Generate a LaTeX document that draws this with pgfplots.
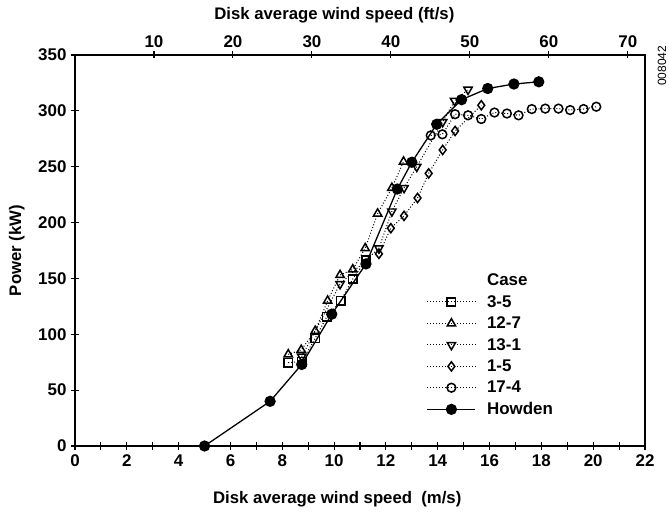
\documentclass[border=0pt]{standalone}
\usepackage{pgfplots}
\pgfplotsset{compat=1.18}
\usepackage{fontspec}
\setmainfont{Liberation Sans}
\begin{document}
\begin{tikzpicture}[x=1bp,y=1bp]
\useasboundingbox (0,0) rectangle (669,514);
\pgfplotsset{
  casemark/.style={black, dotted, line width=1pt, mark options={solid, line width=1.5pt, fill=white}, mark size=4.2pt},
}
\begin{axis}[
  at={(75bp,68bp)}, anchor=south west,
  width=570bp, height=391bp, scale only axis,
  xmin=0, xmax=22, ymin=0, ymax=350,
  axis line style={line width=1.3pt},
  xtick={0,2,...,22}, minor xtick={1,3,...,21},
  ytick={0,50,...,350},
  xtick pos=bottom, ytick pos=left,
  tick align=center,
  major tick length=8bp, minor tick length=8bp,
  every tick/.style={black, line width=1.1pt},
  /pgf/number format/assume math mode=true,
  tick label style={font=\fontsize{17}{19}\selectfont\bfseries},
  label style={font=\fontsize{16.8}{19}\selectfont\bfseries},
  xlabel={Disk average wind speed\ \ (m/s)},
  ylabel={Power (kW)},
  xlabel style={at={(axis description cs:0.46,0)}, anchor=north, yshift=-42bp},
  ylabel style={at={(axis description cs:0,0.5)}, anchor=south, yshift=47bp},
  xticklabel style={yshift=-1bp},
  yticklabel style={xshift=-1bp},
  legend style={draw=none, fill=none, at={(axis cs:13.53,157)}, anchor=north west,
    font=\fontsize{17}{20}\selectfont\bfseries, row sep=4.2bp, inner sep=1bp,
    nodes={inner xsep=11bp}},
  legend cell align=left,
  legend image code/.code={\draw[mark repeat=2,mark phase=2,#1] plot coordinates {(0bp,0bp) (24bp,0bp) (48bp,0bp)};},
  clip=false,
]
\addlegendimage{empty legend}\addlegendentry{Case}
% 3-5
\addplot[casemark, mark=square] coordinates {
(8.23,74.6) (8.75,75.5) (9.27,96.4) (9.72,115.8) (10.26,130) (10.72,149.5) (11.23,166.5)};
\addlegendentry{3-5}
% 12-7
\addplot[casemark, mark=triangle, mark size=4.8pt] coordinates {
(8.23,82) (8.73,86) (9.27,103) (9.75,130) (10.23,153) (10.72,158) (11.2,177) (11.68,208) (12.23,231) (12.68,254.5)};
\addlegendentry{12-7}
% 13-1
\addplot[casemark, mark=triangle, mark size=4.8pt, mark options={solid, line width=1.5pt, fill=white, rotate=180}] coordinates {
(8.75,80) (10.23,145) (11.73,177) (12.23,210) (12.7,231) (13.19,250) (14.19,290) (14.65,309) (15.17,319)};
\addlegendentry{13-1}
% 1-5
\addplot[casemark, mark=diamond, mark size=4.6pt] coordinates {
(11.73,172) (12.19,195) (12.7,206) (13.22,222) (13.65,244) (14.19,265) (14.67,282) (15.68,305)};
\addlegendentry{1-5}
% 17-4
\addplot[casemark, mark=o, mark size=4.4pt] coordinates {
(13.73,278) (14.18,279) (14.67,297) (15.17,296) (15.68,292.7) (16.19,298.5) (16.67,297.6) (17.12,296) (17.63,301.6) (18.15,302) (18.66,302) (19.11,300.7) (19.63,301.6) (20.12,303.7)};
\addlegendentry{17-4}
% Howden
\addplot[black, solid, line width=1.3pt, mark=*, mark size=5pt] coordinates {
(5.0,0) (7.53,40) (8.75,73) (9.91,118) (11.23,163) (12.44,230) (13.0,254) (13.96,288) (14.92,310) (15.93,320) (16.94,324) (17.9,326)};
\addlegendentry{Howden}
\end{axis}
\begin{axis}[
  at={(75bp,68bp)}, anchor=south west,
  width=570bp, height=391bp, scale only axis,
  xmin=0, xmax=72.178, ymin=0, ymax=350,
  axis x line*=top, axis y line=none,
  axis line style={line width=1.3pt},
  xtick={10,20,...,70},
  tick align=center, major tick length=7bp,
  every tick/.style={black, line width=1.1pt},
  /pgf/number format/assume math mode=true,
  tick label style={font=\fontsize{17}{19}\selectfont\bfseries},
  xlabel={Disk average wind speed (ft/s)},
  label style={font=\fontsize{16.8}{19}\selectfont\bfseries},
  xlabel style={at={(axis description cs:0.455,1)}, anchor=south, yshift=28bp},
  xticklabel style={yshift=0bp},
]
\end{axis}
\node[rotate=90, font=\fontsize{12}{13}\selectfont, anchor=center] at (662,448) {008042};
\end{tikzpicture}
\end{document}
